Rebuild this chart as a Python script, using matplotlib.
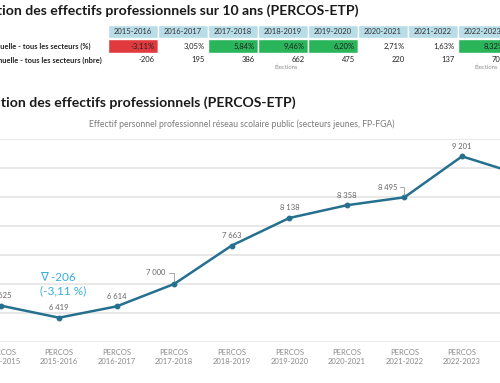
import matplotlib
matplotlib.use('Agg')
import matplotlib.pyplot as plt
from matplotlib.patches import Rectangle

plt.rcParams['font.family'] = ['Lato', 'DejaVu Sans']

# table data (variation annuelle)
periods = ['2015-2016', '2016-2017', '2017-2018', '2018-2019',
           '2019-2020', '2020-2021', '2021-2022', '2022-2023']
pct = [-3.11, 3.05, 5.84, 9.46, 6.20, 2.71, 1.63, 8.32]
nbre = [-206, 195, 386, 662, 475, 220, 137, 706]
election_years = ['2018-2019', '2022-2023']

# line chart data
years = ['2014-2015', '2015-2016', '2016-2017', '2017-2018', '2018-2019',
         '2019-2020', '2020-2021', '2021-2022', '2022-2023', '2023-2024']
etp = [6625, 6419, 6614, 7000, 7663, 8138, 8358, 8495, 9201, 8890]

W, H = 500, 383
fig = plt.figure(figsize=(5, 3.83), dpi=100)
fig.patch.set_facecolor('white')

def fy(py):
    return 1 - py / H

# ---- main line chart
ax = fig.add_axes([0, fy(342), 1, (342 - 139) / H])
step = (462 - 59) / 7
x0 = 59 - step
xs = list(range(len(years)))
ax.set_xticks(xs)
ax.set_xticklabels(['PERCOS\n' + y for y in years], fontsize=5.5, color='#8a8a8a',
                   linespacing=1.35)
ax.tick_params(axis='x', length=0, pad=5)
ax.set_xlim(-x0 / step, (W - x0) / step)
ax.set_yticks(range(6000, 9501, 500))
ax.set_yticklabels([])
ax.set_ylim(6000, 9500)
ax.tick_params(axis='y', length=0)
ax.grid(axis='y', color='#e4e4e4', lw=1.2)
ax.set_axisbelow(True)
for s in ax.spines.values():
    s.set_visible(False)

line_col = '#26708f'
ax.plot(xs, etp, color=line_col, lw=1.8, marker='o', ms=3.2, clip_on=False)

def fmt(v):
    return '{:,}'.format(v).replace(',', '\u202f')

leader = {'2017-2018': (-13, 8), '2021-2022': (-12, 7.3)}
for x, y, v, yr in zip(xs, etp, etp, years):
    if yr == '2023-2024':
        continue
    if yr in leader:
        ax.annotate(fmt(v), (x, y), xytext=leader[yr], textcoords='offset points',
                    ha='center', va='center', fontsize=5.5, color='#666666',
                    arrowprops=dict(arrowstyle='-', color='#999999', lw=0.6,
                                    connectionstyle='angle,angleA=0,angleB=90,rad=0',
                                    shrinkA=9, shrinkB=2))
    else:
        ax.annotate(fmt(v), (x, y), xytext=(0, 7.3), textcoords='offset points',
                    ha='center', va='center', fontsize=5.5, color='#666666')

ax.text(0.67, 7000, '\u2207 {}\n({} %)'.format(nbre[0], str(pct[0]).replace('.', ',')),
        ha='left', va='center', fontsize=8.5, color='#3aaee2', linespacing=1.3)

# ---- overlay for titles and table (pixel coordinates)
ov = fig.add_axes([0, 0, 1, 1])
ov.set_xlim(0, W)
ov.set_ylim(H, 0)
ov.axis('off')
ov.patch.set_alpha(0)

ov.text(358, 10, 'Évolution des effectifs professionnels sur 10 ans (PERCOS-ETP)',
        ha='right', va='center', fontsize=10.1, fontweight='bold', color='#1a1a1a')
ov.text(296, 102, 'Évolution des effectifs professionnels (PERCOS-ETP)',
        ha='right', va='center', fontsize=10.1, fontweight='bold', color='#1a1a1a')
ov.text(242, 124, 'Effectif personnel professionnel réseau scolaire public (secteurs jeunes, FP-FGA)',
        ha='center', va='center', fontsize=6.2, color='#7a7a7a')

ov.text(91, 46, 'Variation annuelle - tous les secteurs (%)', ha='right', va='center',
        fontsize=5.4, fontweight='bold', color='#222222')
ov.text(102, 60, 'Variation annuelle - tous les secteurs (nbre)', ha='right', va='center',
        fontsize=5.4, fontweight='bold', color='#222222')

cw = 50
for i, (p, v, n) in enumerate(zip(periods, pct, nbre)):
    cx = 108 + cw * i
    ov.add_patch(Rectangle((cx, 25), cw, 13, facecolor='#b8dde9', edgecolor='white', lw=1))
    ov.text(cx + cw / 2, 32, p, ha='center', va='center', fontsize=5.5, color='#333333')
    if v < 0:
        fc = '#e03a3e'
    elif v > 5:
        fc = '#2ab55b'
    else:
        fc = 'white'
    ov.add_patch(Rectangle((cx, 39), cw, 14, facecolor=fc, edgecolor='white', lw=1))
    ov.text(cx + cw - 3, 46, '{:.2f}%'.format(v).replace('.', ','), ha='right', va='center',
            fontsize=5.5, color='#222222')
    ov.text(cx + cw - 3, 60, str(n), ha='right', va='center', fontsize=5.5, color='#222222')
    if p in election_years:
        ov.text(cx + cw - 10, 67, 'Élections', ha='right', va='center',
                fontsize=4.2, color='#8a8a8a')

fig.savefig('out.png', dpi=100)
